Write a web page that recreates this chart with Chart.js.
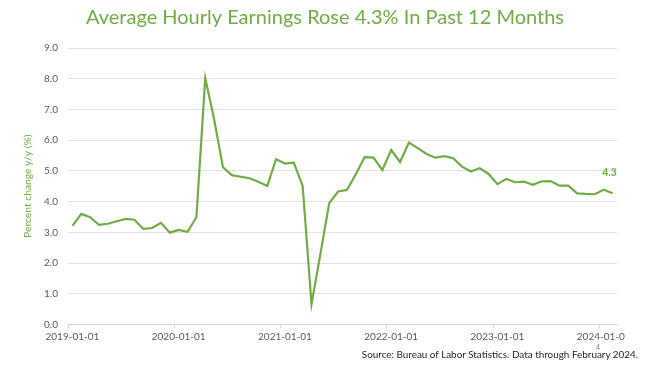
<!DOCTYPE html>
<html><head><meta charset="utf-8">
<script src="https://cdn.jsdelivr.net/npm/chart.js@4/dist/chart.umd.min.js"></script>
<style>
html,body{margin:0;padding:0;background:#fff;}
#wrap{position:absolute;left:0;top:0;width:626px;height:366px;overflow:hidden;}
#src{position:absolute;right:12px;top:348px;font:9.9px Lato;color:#262626;white-space:nowrap;}
#pg{position:absolute;left:596px;top:343px;font:7px Lato;color:#7f7f7f;}
</style></head><body>
<div id="wrap"><canvas id="c" width="650" height="366"></canvas></div>
<div id="pg">4</div>
<div id="src">Source: Bureau of Labor Statistics. Data through February 2024.</div>
<script>
const chartTitle = 'Average Hourly Earnings Rose 4.3% In Past 12 Months';
const yAxisTitle = 'Percent change y/y (%)';
const months = [
 '2019-01-01','2019-02-01','2019-03-01','2019-04-01','2019-05-01','2019-06-01','2019-07-01','2019-08-01','2019-09-01','2019-10-01','2019-11-01','2019-12-01',
 '2020-01-01','2020-02-01','2020-03-01','2020-04-01','2020-05-01','2020-06-01','2020-07-01','2020-08-01','2020-09-01','2020-10-01','2020-11-01','2020-12-01',
 '2021-01-01','2021-02-01','2021-03-01','2021-04-01','2021-05-01','2021-06-01','2021-07-01','2021-08-01','2021-09-01','2021-10-01','2021-11-01','2021-12-01',
 '2022-01-01','2022-02-01','2022-03-01','2022-04-01','2022-05-01','2022-06-01','2022-07-01','2022-08-01','2022-09-01','2022-10-01','2022-11-01','2022-12-01',
 '2023-01-01','2023-02-01','2023-03-01','2023-04-01','2023-05-01','2023-06-01','2023-07-01','2023-08-01','2023-09-01','2023-10-01','2023-11-01','2023-12-01',
 '2024-01-01','2024-02-01'
];
const wageGrowth = [
 3.21,3.60,3.49,3.24,3.28,3.36,3.44,3.41,3.11,3.14,3.31,2.99,
 3.08,3.02,3.49,8.02,6.68,5.12,4.86,4.81,4.76,4.65,4.51,5.38,
 5.24,5.27,4.51,0.66,2.29,3.95,4.33,4.38,4.89,5.45,5.43,5.03,
 5.68,5.29,5.92,5.74,5.55,5.43,5.48,5.41,5.14,4.98,5.09,4.90,
 4.57,4.74,4.63,4.65,4.55,4.66,4.67,4.52,4.52,4.27,4.25,4.24,
 4.39,4.27
];
const xTickLabels = ['2019-01-01','2020-01-01','2021-01-01','2022-01-01','2023-01-01','2024-01-01'];

const green = '#70AD47';
const lastLabel = {
  id: 'lastLabel',
  afterDatasetsDraw(chart) {
    const meta = chart.getDatasetMeta(0);
    const pt = meta.data[meta.data.length - 1];
    const ctx = chart.ctx;
    ctx.save();
    ctx.font = 'bold 10.5px Lato';
    ctx.fillStyle = green;
    ctx.textAlign = 'center';
    ctx.textBaseline = 'middle';
    ctx.fillText(wageGrowth[wageGrowth.length - 1].toFixed(1), pt.x - 3, pt.y - 21);
    ctx.restore();
  }
};

new Chart(document.getElementById('c'), {
  type: 'line',
  data: {
    labels: months,
    datasets: [{
      data: wageGrowth,
      borderColor: green,
      borderWidth: 2.2,
      pointRadius: 0,
      tension: 0,
      fill: false
    }]
  },
  options: {
    responsive: false,
    animation: false,
    layout: { padding: 0 },
    plugins: {
      legend: { display: false },
      tooltip: { enabled: false },
      title: {
        display: true,
        text: chartTitle,
        color: green,
        font: { family: 'Lato', size: 20, weight: 'normal' },
        padding: { top: 6, bottom: 18 }
      }
    },
    scales: {
      x: {
        type: 'category',
        offset: true,
        afterFit: s => { s.height = 41.5; s.paddingLeft = 0; s.paddingRight = 33; },
        grid: {
          offset: true,
          drawOnChartArea: false,
          tickLength: 4,
          color: ctx => (ctx.index % 12 === 0 ? '#d9d9d9' : 'rgba(0,0,0,0)')
        },
        border: { display: true, color: '#d9d9d9' },
        ticks: {
          autoSkip: false,
          maxRotation: 0,
          padding: 2,
          color: '#595959',
          font: { family: 'Lato', size: 10 },
          callback: (v, i) => (xTickLabels.includes(months[i]) ? months[i] : '')
        }
      },
      y: {
        min: 0,
        max: 9,
        afterFit: s => { s.width = 68; },
        grid: { color: '#e3e3e3', drawTicks: false, lineWidth: 1 },
        border: { display: false },
        ticks: {
          stepSize: 1,
          padding: 10,
          color: '#595959',
          font: { family: 'Lato', size: 10 },
          callback: v => v.toFixed(1)
        },
        title: {
          display: true,
          text: yAxisTitle,
          color: green,
          font: { family: 'Lato', size: 10.3 },
          padding: { top: 21, bottom: 0 }
        }
      }
    }
  },
  plugins: [lastLabel]
});
</script>
</body></html>
